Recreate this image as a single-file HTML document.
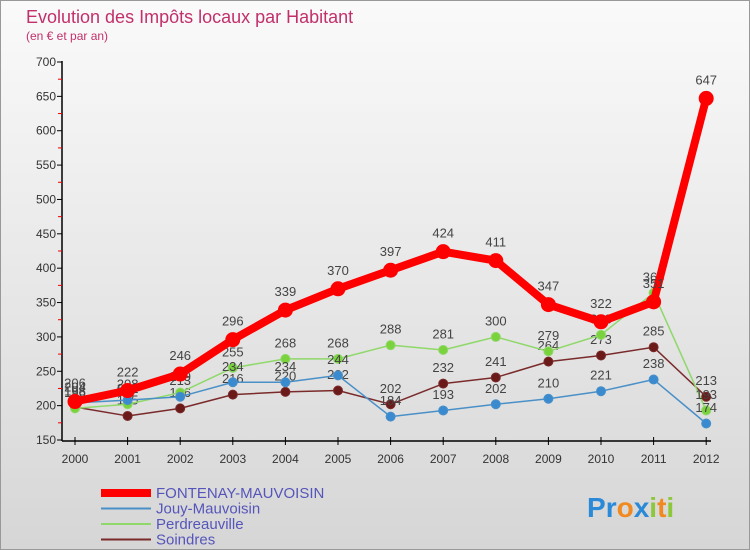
<!DOCTYPE html>
<html><head><meta charset="utf-8">
<style>
body{margin:0;width:750px;height:550px;overflow:hidden;font-family:"Liberation Sans",sans-serif}
#wrap{position:relative;width:748px;height:548px;border:1px solid #999;background:linear-gradient(#fafafa,#d6d6d6)}
</style></head><body>
<div id="wrap">
<svg id="chart" width="748" height="548" style="position:absolute;left:0;top:0"></svg>
</div>
<script>
const years=[2000,2001,2002,2003,2004,2005,2006,2007,2008,2009,2010,2011,2012];
const fontenay=[206,222,246,296,339,370,397,424,411,347,322,351,647];
const jouy=[204,208,213,234,234,244,184,193,202,210,221,238,174];
const perdre=[196,202,219,255,268,268,288,281,300,279,303,364,193];
const soindres=[198,185,196,216,220,222,202,232,241,264,273,285,213];
const yTicks=[150,200,250,300,350,400,450,500,550,600,650,700];
const NS="http://www.w3.org/2000/svg";
const svg=document.getElementById('chart');
const X=i=>74+i*52.6;
const Y=v=>439-(v-150)*(378/550);
function mk(t,a,p){const e=document.createElementNS(NS,t);for(const k in a)e.setAttribute(k,a[k]);(p||svg).appendChild(e);return e;}
function txt(x,y,s,a){const e=mk('text',Object.assign({x:x,y:y},a));e.textContent=s;return e;}
let t=txt(25,22,"Evolution des Impôts locaux par Habitant",{fill:"#c2306b","font-size":18});

t=txt(25,39,"(en € et par an)",{fill:"#c2306b","font-size":12});

let ax=mk('line',{x1:61,y1:60,x2:61,y2:440,stroke:"#000","stroke-width":1.5});

ax=mk('line',{x1:61,y1:440,x2:710,y2:440,stroke:"#000","stroke-width":1.5});

yTicks.forEach((v,i)=>{
 mk('line',{x1:56,y1:Y(v),x2:61,y2:Y(v),stroke:"#000"});
 if(i<yTicks.length-1) mk('line',{x1:57,y1:Y(v+25),x2:61,y2:Y(v+25),stroke:"#e00"});
 const l=txt(55,Y(v)+4,String(v),{"font-size":12,fill:"#333","text-anchor":"end"});
 
});
years.forEach((y,i)=>{
 mk('line',{x1:X(i),y1:436,x2:X(i),y2:444,stroke:"#000"});
 const l=txt(X(i),462,String(y),{"font-size":12,fill:"#333","text-anchor":"middle"});
 
});
function series(vals,color,w,r,dot,name){
 const g=mk('g',{});
 
 mk('polyline',{points:vals.map((v,i)=>X(i)+','+Y(v)).join(' '),fill:"none",stroke:color,"stroke-width":w,"stroke-linejoin":"round"},g);
 vals.forEach((v,i)=>{
  const c=mk('circle',{cx:X(i),cy:Y(v),r:r,fill:dot,stroke:color,"stroke-width":1},g);
  
  const l=txt(X(i),Y(v)-(r+7),String(v),{"font-size":13,fill:"#444","text-anchor":"middle"});
  g.appendChild(l);
 });
}
series(soindres,"#7a2a2a",1.5,4.5,"#6b1a1a","series-soindres");
series(perdre,"#8fd86a",1.5,4.5,"#7ad23c","series-perdreauville");
series(jouy,"#4a90c8",1.5,4.5,"#3a8ad0","series-jouy-mauvoisin");
series(fontenay,"#f00",8,7,"#f00","series-fontenay-mauvoisin");
const leg=[["FONTENAY-MAUVOISIN","#f00",8],["Jouy-Mauvoisin","#4a90c8",2],["Perdreauville","#8fd86a",2],["Soindres","#7a2a2a",2]];
leg.forEach((d,i)=>{
 const g=mk('g',{});
 
 const y=492+i*15.5;
 mk('line',{x1:100,y1:y,x2:150,y2:y,stroke:d[1],"stroke-width":d[2]},g);
 const l=txt(155,y+5,d[0],{"font-size":15,fill:"#55b"});g.appendChild(l);
});
const lg=txt(586,516,"",{"font-size":28,"font-weight":"bold"});

[["P","#2a8ad8"],["r","#2a8ad8"],["o","#f08a20"],["x","#2a8ad8"],["i","#8cc83a"],["t","#f08a20"],["i","#8cc83a"]].forEach(c=>{const s=mk('tspan',{fill:c[1]},lg);s.textContent=c[0];});
</script>
</body></html>
